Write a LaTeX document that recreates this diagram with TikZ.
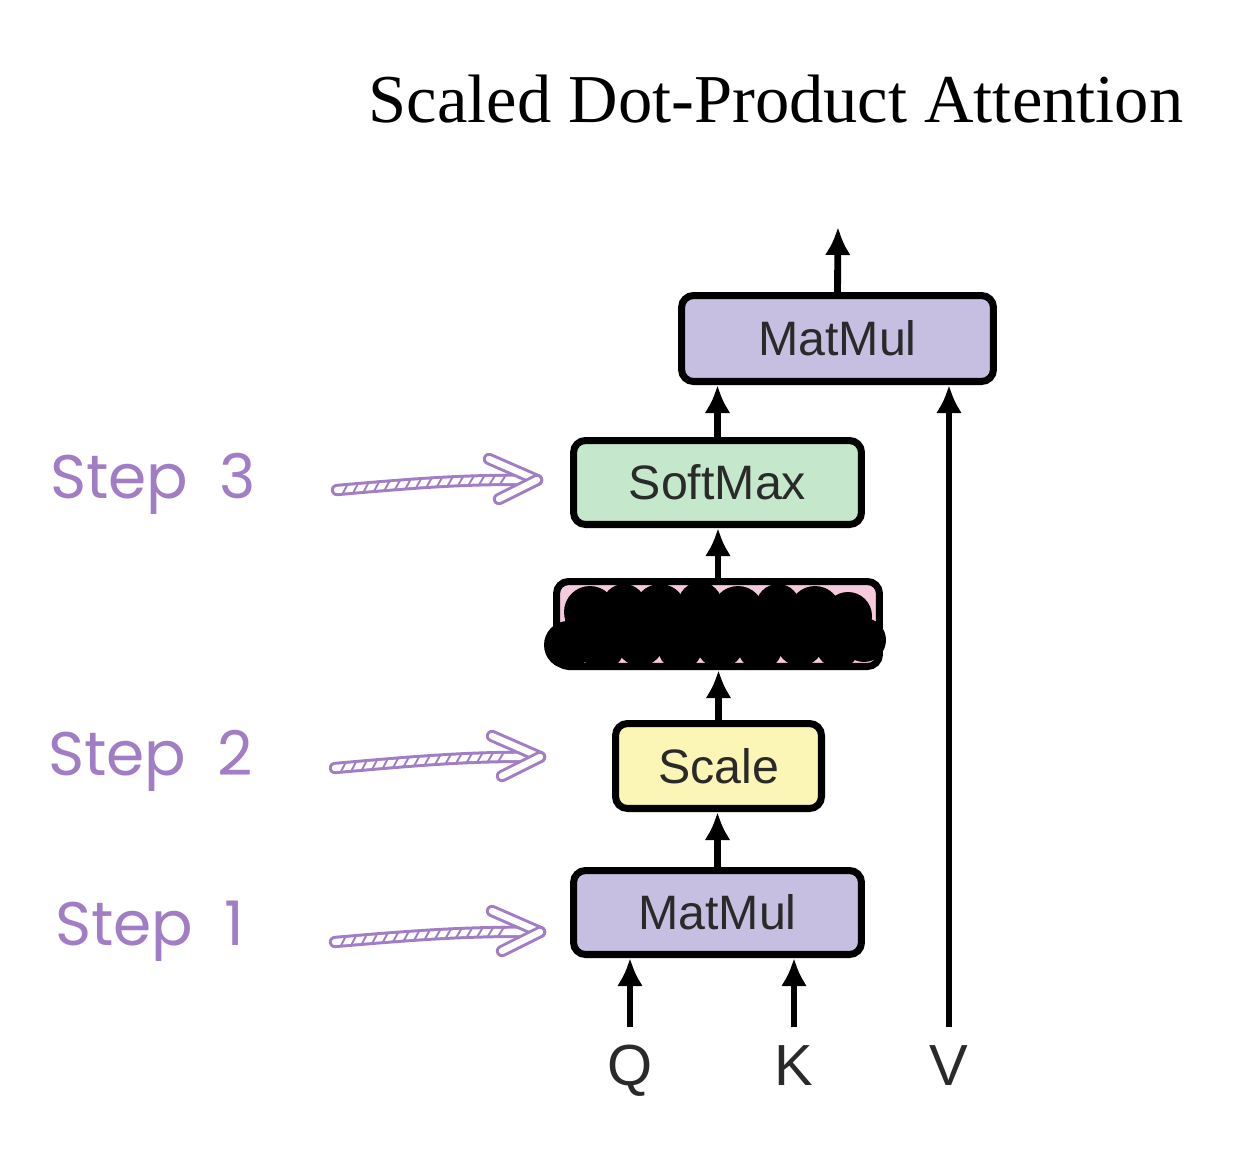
\documentclass[tikz,border=0pt]{standalone}
\usepackage{fontspec}
\setmainfont{Liberation Serif}
\newfontfamily\boxfont{Liberation Sans}
\newfontfamily\stepfont{Poppins}
\usetikzlibrary{arrows.meta,decorations.markings,calc}
\definecolor{mmpurple}{RGB}{198,191,226}
\definecolor{smgreen}{RGB}{197,231,203}
\definecolor{scyellow}{RGB}{251,245,182}
\definecolor{mkpink}{RGB}{247,201,221}
\definecolor{txtgray}{RGB}{42,42,42}
\definecolor{stepc}{RGB}{161,125,197}
\tikzset{
  blk/.style={draw=black, line width=4pt, rounded corners=0.24cm, inner sep=0pt,
    font=\boxfont\fontsize{27.5}{30}\selectfont, text=txtgray},
  arr/.style={line width=3.9pt, -{Latex[length=0.56cm,width=0.52cm]}},
  qkv/.style={font=\boxfont\fontsize{33}{36}\selectfont, text=txtgray, anchor=base,
    text height=23.6pt, text depth=0pt, inner xsep=0pt, inner ysep=9pt},
  steplbl/.style={font=\stepfont\fontsize{35}{38}\selectfont, text=stepc, anchor=base west, inner sep=0pt},
  hand/.style={draw=stepc, line width=1.7pt, double=white, double distance=3.6pt, line cap=round},
  hatched/.style={postaction={decorate, decoration={markings,
    mark=between positions 0.04 and 0.84 step 6pt with {\draw[stepc, line width=1.1pt, line cap=round] (-1.8pt,-2.8pt) -- (1.8pt,2.8pt);}}}}
}
\begin{document}
\begin{tikzpicture}[x=0.02cm,y=-0.02cm]
\useasboundingbox (0,0) rectangle (1248,1150);
\fill[white] (0,0) rectangle (1248,1150);

% title
\node[font=\fontsize{39}{44}\selectfont, anchor=base, inner sep=0pt] (title) at (776,122) {Scaled Dot-Product Attention};

% boxes
\node[blk, fill=mmpurple, minimum width=6.24cm, minimum height=1.72cm] (mm2) at (837.5,338.5) {MatMul};
\node[blk, fill=smgreen, minimum width=5.76cm, minimum height=1.68cm] (sm) at (717.5,482.5) {SoftMax};
\node[blk, fill=mkpink, minimum width=6.46cm, minimum height=1.70cm] (mask) at (718,624) {};
\node[blk, fill=scyellow, minimum width=4.12cm, minimum height=1.70cm] (sc) at (718.5,766) {Scale};
\node[blk, fill=mmpurple, minimum width=5.76cm, minimum height=1.68cm] (mm1) at (717.5,912.5) {MatMul};

% scribble over mask box
\fill[black] (565,606) rectangle (868,648);
\foreach \x/\y/\r in {590/612/26,624/606/22,660/610/26,700/604/22,738/612/26,778/606/22,815/612/26,848/616/24}
  \fill[black] (\x,\y) circle (\r);
\foreach \x/\y/\r in {568/645/24,602/648/22,640/642/24,680/648/22,720/644/24,760/648/22,800/642/24,838/646/22,864/640/22}
  \fill[black] (\x,\y) circle (\r);

% inputs
\node[qkv] (q) at (630,1085) {Q};
\node[qkv] (k) at (794,1085) {K};
\node[qkv] (v) at (949,1085) {V};
\coordinate (out) at (838,227);

% connectors
\draw[arr] (q.north) -- (q.north |- mm1.south);
\draw[arr] (k.north) -- (k.north |- mm1.south);
\draw[arr] (mm1.north) -- (mm1.north |- sc.south);
\draw[arr] (sc.north) -- (sc.north |- mask.south);
\draw[arr] (mask.north) -- (mask.north |- sm.south);
\draw[arr] (sm.north) -- (sm.north |- mm2.south);
\draw[arr] (v.north) -- (v.north |- mm2.south);
\draw[arr] (mm2.north) -- (out);

% step labels
\node[steplbl] (s3) at (50,498) {Step\hspace{0.5em}3};
\node[steplbl] (s2) at (48,775) {Step\hspace{0.5em}2};
\node[steplbl] (s1) at (55,945) {Step\hspace{0.5em}1};

% hand-drawn arrows
\coordinate (a3s) at (337,490); \coordinate (a3t) at (537,480);
\coordinate (a2s) at (335,768); \coordinate (a2t) at (540,757);
\coordinate (a1s) at (335,942); \coordinate (a1t) at (540,932);
\foreach \n in {1,2,3}{
  \draw[hand, hatched] (a\n s) .. controls ($(a\n s)+(80,-7)$) and ($(a\n t)+(-70,-1)$) .. (a\n t);
  \draw[hand] (a\n t) -- ++(-48,-21);
  \draw[hand] (a\n t) -- ++(-38,19);
}
\end{tikzpicture}
\end{document}
